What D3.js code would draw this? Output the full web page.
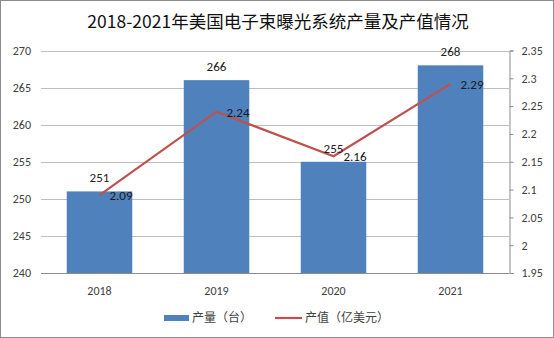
<!DOCTYPE html>
<html><head><meta charset="utf-8">
<script src="https://cdn.jsdelivr.net/npm/d3@7/dist/d3.min.js"></script>
<style>body{margin:0;background:#fff}svg{display:block}</style>
</head><body>
<script>
const title = "2018-2021年美国电子束曝光系统产量及产值情况";
const years = ["2018","2019","2020","2021"];
const output = [251, 266, 255, 268];
const value = [2.09, 2.24, 2.16, 2.29];
const leftTicks = [240,245,250,255,260,265,270];
const rightTicks = [1.95,2,2.05,2.1,2.15,2.2,2.25,2.3,2.35];
const seriesNames = ["产量（台）","产值（亿美元）"];

const W=554,H=338;
const font = "Calibri, Carlito, 'Noto Sans CJK SC', sans-serif";
const svg = d3.select("body").append("svg").attr("width",W).attr("height",H);
svg.append("rect").attr("x",0.5).attr("y",0.5).attr("width",W-1).attr("height",H-1)
  .attr("fill","#fff").attr("stroke","#8c8c8c");

const x0=41,x1=509,yTop=50.5,yBot=273;
const x = d3.scaleBand().domain(years).range([x0,x1]).paddingInner(0.44).paddingOuter(0.22);
const yL = d3.scaleLinear().domain([240,270]).range([yBot,yTop]);
const yR = d3.scaleLinear().domain([1.95,2.35]).range([yBot,yTop]);

svg.append("text").attr("x",W/2+1).attr("y",28).attr("text-anchor","middle")
  .attr("font-family","'Noto Sans CJK SC', sans-serif").attr("font-size",17.5).attr("font-weight",400)
  .attr("fill","#111").text(title);

// gridlines
svg.append("g").selectAll("line").data(leftTicks).join("line")
  .attr("x1",x0).attr("x2",x1).attr("y1",d=>Math.round(yL(d))+0.5).attr("y2",d=>Math.round(yL(d))+0.5)
  .attr("stroke","#bfbfbf").attr("stroke-width",1);

// left tick labels
svg.append("g").selectAll("text").data(leftTicks).join("text")
  .attr("x",31).attr("y",d=>yL(d)+4).attr("text-anchor","end")
  .attr("font-family",font).attr("font-size",12).attr("fill","#404040").text(d=>d);

// right axis
const gR = svg.append("g").attr("transform",`translate(${x1+0.5},0)`);
gR.call(d3.axisRight(yR).tickValues(rightTicks).tickSize(4).tickFormat(d=>d3.format("")(+d.toFixed(2))));
gR.select(".domain").attr("stroke","#8c8c8c");
gR.selectAll(".tick line").attr("stroke","#8c8c8c");
gR.selectAll("text").attr("x",12).attr("font-family",font).attr("font-size",12).attr("fill","#404040");

// bars
svg.append("g").selectAll("rect").data(years).join("rect")
  .attr("x",d=>x(d)).attr("width",x.bandwidth())
  .attr("y",(d,i)=>yL(output[i])).attr("height",(d,i)=>yBot-yL(output[i]))
  .attr("fill","#4f81bd");

// x axis line
svg.append("line").attr("x1",x0).attr("x2",x1).attr("y1",yBot+0.5).attr("y2",yBot+0.5).attr("stroke","#8c8c8c");
svg.append("g").selectAll("text").data(years).join("text")
  .attr("x",d=>x(d)+x.bandwidth()/2).attr("y",295).attr("text-anchor","middle")
  .attr("font-family",font).attr("font-size",12).attr("fill","#404040").text(d=>d);

// line
const cx = d=>x(d)+x.bandwidth()/2;
svg.append("path").datum(years).attr("fill","none").attr("stroke","#c0504d").attr("stroke-width",2.2)
  .attr("d",d3.line().x(d=>cx(d)).y((d,i)=>yR(value[i])));

// bar labels
svg.append("g").selectAll("text").data(years).join("text")
  .attr("x",d=>cx(d)).attr("y",(d,i)=>yL(output[i])-9).attr("text-anchor","middle")
  .attr("font-family",font).attr("font-size",13).attr("fill","#222").text((d,i)=>output[i]);

// line labels
svg.append("g").selectAll("text").data(years).join("text")
  .attr("x",d=>cx(d)+10).attr("y",(d,i)=>yR(value[i])+5)
  .attr("font-family",font).attr("font-size",13).attr("fill","#1a1a1a").text((d,i)=>value[i]);

// legend
const lg = svg.append("g").attr("font-family","'Noto Sans CJK SC', sans-serif").attr("font-size",12).attr("fill","#404040");
lg.append("rect").attr("x",164).attr("y",315).attr("width",25).attr("height",6).attr("fill","#4f81bd");
lg.append("text").attr("x",192).attr("y",322).text(seriesNames[0]);
lg.append("line").attr("x1",275).attr("x2",302).attr("y1",318).attr("y2",318).attr("stroke","#c0504d").attr("stroke-width",2.2);
lg.append("text").attr("x",305).attr("y",322).text(seriesNames[1]);
</script>
</body></html>
